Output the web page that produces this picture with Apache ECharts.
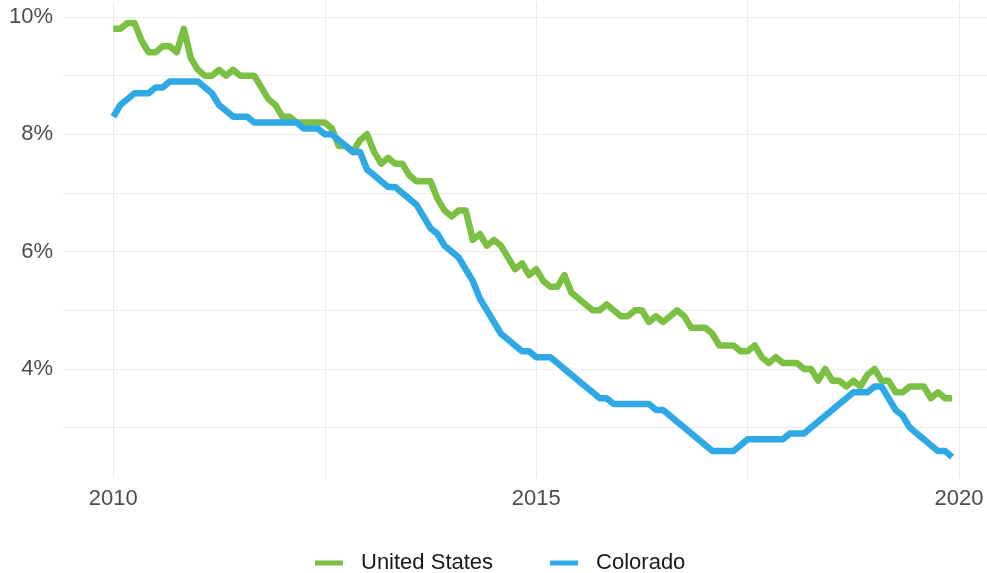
<!DOCTYPE html>
<html>
<head>
<meta charset="utf-8">
<title>Unemployment rate: United States vs Colorado</title>
<script src="https://cdn.jsdelivr.net/npm/echarts@6/dist/echarts.min.js"></script>
<style>
  html, body { margin: 0; padding: 0; background: #fff; }
  #chart { width: 987px; height: 573px; }
</style>
</head>
<body>
<div id="chart"></div>
<script>
// monthly, Jan 2010 .. Dec 2019
var startYear = 2010;

var usRate = [
	9.8, 9.8, 9.9, 9.9, 9.6, 9.4, 9.4, 9.5, 9.5, 9.4, 9.8, 9.3,
	9.1, 9.0, 9.0, 9.1, 9.0, 9.1, 9.0, 9.0, 9.0, 8.8, 8.6, 8.5,
	8.3, 8.3, 8.2, 8.2, 8.2, 8.2, 8.2, 8.1, 7.8, 7.8, 7.7, 7.9,
	8.0, 7.7, 7.5, 7.6, 7.5, 7.5, 7.3, 7.2, 7.2, 7.2, 6.9, 6.7,
	6.6, 6.7, 6.7, 6.2, 6.3, 6.1, 6.2, 6.1, 5.9, 5.7, 5.8, 5.6,
	5.7, 5.5, 5.4, 5.4, 5.6, 5.3, 5.2, 5.1, 5.0, 5.0, 5.1, 5.0,
	4.9, 4.9, 5.0, 5.0, 4.8, 4.9, 4.8, 4.9, 5.0, 4.9, 4.7, 4.7,
	4.7, 4.6, 4.4, 4.4, 4.4, 4.3, 4.3, 4.4, 4.2, 4.1, 4.2, 4.1,
	4.1, 4.1, 4.0, 4.0, 3.8, 4.0, 3.8, 3.8, 3.7, 3.8, 3.7, 3.9,
	4.0, 3.8, 3.8, 3.6, 3.6, 3.7, 3.7, 3.7, 3.5, 3.6, 3.5, 3.5
];

var coRate = [
	8.3, 8.5, 8.6, 8.7, 8.7, 8.7, 8.8, 8.8, 8.9, 8.9, 8.9, 8.9,
	8.9, 8.8, 8.7, 8.5, 8.4, 8.3, 8.3, 8.3, 8.2, 8.2, 8.2, 8.2,
	8.2, 8.2, 8.2, 8.1, 8.1, 8.1, 8.0, 8.0, 7.9, 7.8, 7.7, 7.7,
	7.4, 7.3, 7.2, 7.1, 7.1, 7.0, 6.9, 6.8, 6.6, 6.4, 6.3, 6.1,
	6.0, 5.9, 5.7, 5.5, 5.2, 5.0, 4.8, 4.6, 4.5, 4.4, 4.3, 4.3,
	4.2, 4.2, 4.2, 4.1, 4.0, 3.9, 3.8, 3.7, 3.6, 3.5, 3.5, 3.4,
	3.4, 3.4, 3.4, 3.4, 3.4, 3.3, 3.3, 3.2, 3.1, 3.0, 2.9, 2.8,
	2.7, 2.6, 2.6, 2.6, 2.6, 2.7, 2.8, 2.8, 2.8, 2.8, 2.8, 2.8,
	2.9, 2.9, 2.9, 3.0, 3.1, 3.2, 3.3, 3.4, 3.5, 3.6, 3.6, 3.6,
	3.7, 3.7, 3.5, 3.3, 3.2, 3.0, 2.9, 2.8, 2.7, 2.6, 2.6, 2.5
];

var xTickLabels = [2010, 2015, 2020];
var xGridLines = [2010, 2012.5, 2015, 2017.5, 2020];
var yTickLabels = [4, 6, 8, 10];
var yGridLines = [3, 4, 5, 6, 7, 8, 9, 10];

var seriesNames = ['United States', 'Colorado'];
var seriesColors = ['#7ac143', '#2ea9e6'];

function toPoints(values) {
	var pts = [];
	for (var i = 0; i < values.length; i++) {
		// decimal year of the month
		pts.push([startYear + i / 12, values[i]]);
	}
	return pts;
}

var font = 'Liberation Sans, Arial, sans-serif';
var gridColor = '#ebebeb';

var option = {
	animation: false,
	backgroundColor: '#ffffff',
	grid: { left: 63, right: 0, top: 2, bottom: 95 },
	legend: {
		data: seriesNames,
		top: 552,
		left: 315,
		padding: 0,
		icon: 'rect',
		itemWidth: 28,
		itemHeight: 5,
		itemGap: 57,
		textStyle: { fontFamily: font, fontSize: 22, color: '#1a1a1a', padding: [0, 0, 0, 13] }
	},
	xAxis: {
		type: 'value',
		min: 2009.405,
		max: 2020.33,
		axisLine: { show: false },
		axisTick: { show: false, customValues: xGridLines },
		axisLabel: {
			customValues: xTickLabels,
			margin: 10,
			fontFamily: font, fontSize: 22, color: '#4d4d4d',
			formatter: function (v) { return String(v); }
		},
		splitLine: { show: true, lineStyle: { color: gridColor, width: 1 } }
	},
	yAxis: {
		type: 'value',
		min: 2.14,
		max: 10.256,
		axisLine: { show: false },
		axisTick: { show: false, customValues: yGridLines },
		axisLabel: {
			customValues: yTickLabels,
			margin: 10,
			fontFamily: font, fontSize: 22, color: '#4d4d4d',
			formatter: function (v) { return v + '%'; }
		},
		splitLine: { show: true, lineStyle: { color: gridColor, width: 1 } }
	},
	series: [
		{
			name: seriesNames[0],
			type: 'line',
			data: toPoints(usRate),
			showSymbol: false,
			color: seriesColors[0],
			lineStyle: { width: 6.5, color: seriesColors[0], join: 'round' }
		},
		{
			name: seriesNames[1],
			type: 'line',
			data: toPoints(coRate),
			showSymbol: false,
			color: seriesColors[1],
			lineStyle: { width: 6.5, color: seriesColors[1], join: 'round' }
		}
	]
};

var myChart = echarts.init(document.getElementById('chart'));
myChart.setOption(option);
</script>
</body>
</html>
